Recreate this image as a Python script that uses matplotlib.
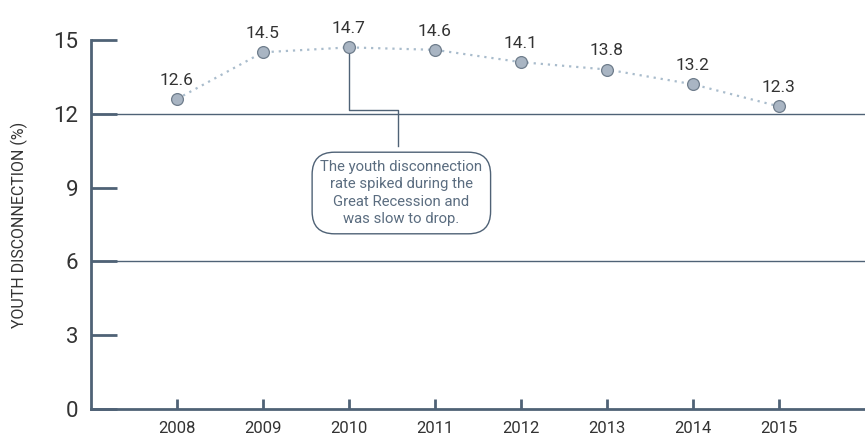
import matplotlib.pyplot as plt

years = [2008, 2009, 2010, 2011, 2012, 2013, 2014, 2015]
rates = [12.6, 14.5, 14.7, 14.6, 14.1, 13.8, 13.2, 12.3]
y_ticks = [0, 3, 6, 9, 12, 15]
note = ("The youth disconnection\nrate spiked during the\n"
        "Great Recession and\nwas slow to drop.")

plt.rcParams['font.family'] = ['Roboto', 'DejaVu Sans']
axis_col = '#4f6276'

fig = plt.figure(figsize=(8.65, 4.42), dpi=100)
ax = fig.add_axes([0.105, 0.0747, 0.895, 0.8348])

# reference lines at 6 and 12
for g in (6, 12):
    ax.axhline(g, color=axis_col, lw=1.0, zorder=1)

ax.plot(years, rates, linestyle=(0, (1, 2.2)), color='#a9bccc', lw=1.6, zorder=2,
        marker='o', markersize=8.5, markerfacecolor='#a9b5c3',
        markeredgecolor='#6f7d8c', markeredgewidth=0.9, clip_on=False)

for x, y in zip(years, rates):
    ax.annotate(f'{y}', (x, y), xytext=(0, 8), textcoords='offset points',
                ha='center', va='bottom', fontsize=12.5, color='#333333',
                annotation_clip=False)

# callout pointing at the 2010 peak
elbow_x = 2010.57
ax.plot([2010, 2010, elbow_x, elbow_x], [14.45, 12.15, 12.15, 10.7],
        color=axis_col, lw=1.0, zorder=3)
ax.text(elbow_x + 0.04, 8.78, note, ha='center', va='center', fontsize=10.7,
        color='#5b6d80', linespacing=1.28, zorder=4,
        bbox=dict(boxstyle='round,pad=0.55,rounding_size=1.5', fc='white',
                  ec=axis_col, lw=1.0))

ax.set_xlim(2007.0, 2016.0)
ax.set_ylim(0, 15)
ax.set_xticks(years)
ax.set_yticks(y_ticks)
ax.tick_params(axis='y', direction='in', length=19, width=2, color=axis_col,
               labelsize=16, labelcolor='#333333', pad=9)
ax.tick_params(axis='x', direction='in', length=7, width=2, color=axis_col,
               labelsize=12, labelcolor='#333333', pad=9)

for side in ('top', 'right'):
    ax.spines[side].set_visible(False)
for side in ('left', 'bottom'):
    ax.spines[side].set_color(axis_col)
    ax.spines[side].set_linewidth(2)

ax.set_ylabel('YOUTH DISCONNECTION (%)', fontsize=11.5, color='#333333', labelpad=18)

fig.savefig('out.png', dpi=100)
